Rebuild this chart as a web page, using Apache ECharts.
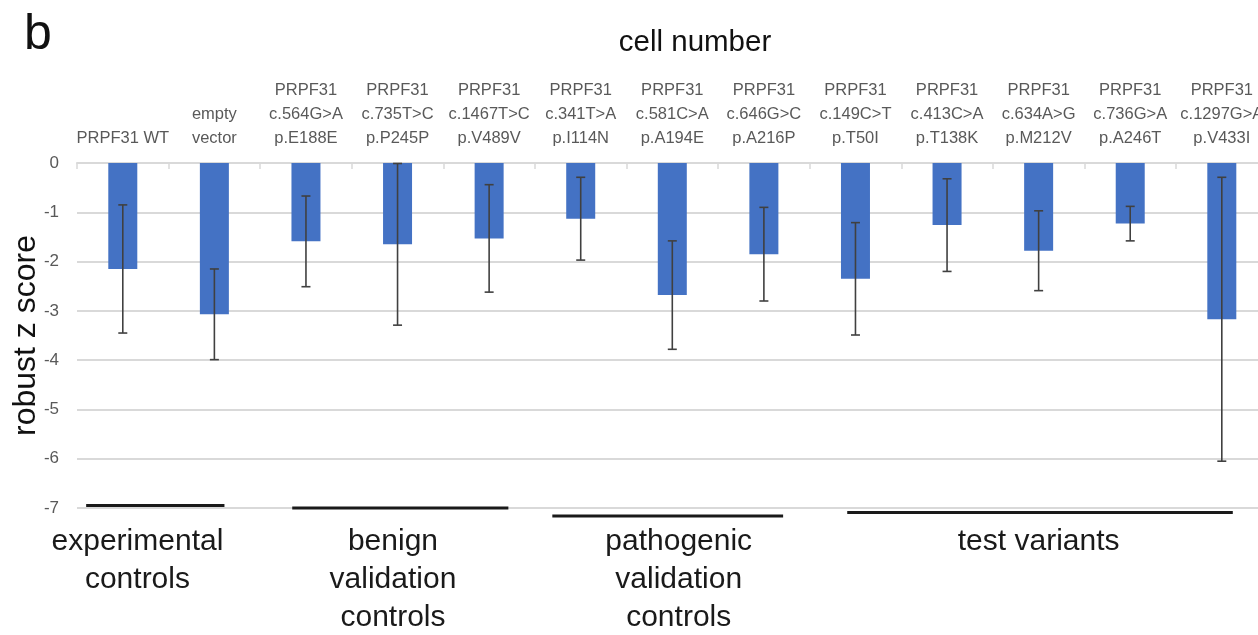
<!DOCTYPE html>
<html>
<head>
<meta charset="utf-8">
<script src="https://cdn.jsdelivr.net/npm/echarts@6/dist/echarts.min.js"></script>
<style>
html,body{margin:0;padding:0;background:#fff;}
#main{width:1258px;height:635px;}
</style>
</head>
<body>
<div id="main"></div>
<script>
// ---- data ----
var categories = [
  'PRPF31 WT',
  'empty\nvector',
  'PRPF31\nc.564G>A\np.E188E',
  'PRPF31\nc.735T>C\np.P245P',
  'PRPF31\nc.1467T>C\np.V489V',
  'PRPF31\nc.341T>A\np.I114N',
  'PRPF31\nc.581C>A\np.A194E',
  'PRPF31\nc.646G>C\np.A216P',
  'PRPF31\nc.149C>T\np.T50I',
  'PRPF31\nc.413C>A\np.T138K',
  'PRPF31\nc.634A>G\np.M212V',
  'PRPF31\nc.736G>A\np.A246T',
  'PRPF31\nc.1297G>A\np.V433I'
];
var zScores = [-2.15, -3.07, -1.59, -1.65, -1.53, -1.13, -2.68, -1.85, -2.35, -1.26, -1.78, -1.23, -3.17];
var errHalf = [1.30, 0.92, 0.92, 1.64, 1.09, 0.84, 1.10, 0.95, 1.14, 0.94, 0.81, 0.35, 2.88];
var yTicks = [0, -1, -2, -3, -4, -5, -6, -7];
// group brackets in category-band units
var groupNames = ['experimental\ncontrols', 'benign\nvalidation\ncontrols', 'pathogenic\nvalidation\ncontrols', 'test variants'];
var groupStart = [0.10, 2.35, 5.19, 8.41];
var groupEnd = [1.61, 4.71, 7.71, 12.62];
var groupY = [-6.95, -7.00, -7.16, -7.09];
var groupLabelX = [0.66, 3.45, 6.57, 10.50];

var FONT = 'Liberation Sans, Arial, sans-serif';

var errData = zScores.map(function (v, i) { return [i, v - errHalf[i], v + errHalf[i]]; });
var groupData = groupNames.map(function (n, i) { return [groupStart[i], groupEnd[i], groupY[i], groupLabelX[i]]; });

var chart = echarts.init(document.getElementById('main'));
chart.setOption({
  animation: false,
  backgroundColor: '#fff',
  title: [
    { text: 'b', left: 19, top: 5, textStyle: { fontFamily: FONT, fontSize: 50, fontWeight: 'normal', color: '#111' } },
    { text: 'cell number', left: 690, top: 23, textAlign: 'center', textStyle: { fontFamily: FONT, fontSize: 29.5, fontWeight: 'normal', color: '#111' } }
  ],
  grid: { left: 77, top: 163, width: 1190.6, height: 345, containLabel: false, outerBoundsMode: 'none' },
  xAxis: [
    {
      type: 'category',
      position: 'top',
      data: categories,
      axisLine: { show: true, lineStyle: { color: '#d9d9d9', width: 2 } },
      axisTick: { show: true, inside: true, length: 6, lineStyle: { color: '#d9d9d9', width: 1.5 } },
      axisLabel: { interval: 0, color: '#595959', fontFamily: FONT, fontSize: 16.5, lineHeight: 24, margin: 13 }
    },
    { type: 'value', min: 0, max: 13, show: false, position: 'top' }
  ],
  yAxis: {
    type: 'value',
    min: -7, max: 0, interval: 1,
    name: 'robust z score',
    nameLocation: 'middle',
    nameGap: 35,
    nameRotate: 90,
    nameMoveOverlap: false,
    nameTextStyle: { fontFamily: FONT, fontSize: 32, color: '#111' },
    axisLine: { show: false },
    axisTick: { show: false },
    axisLabel: { color: '#595959', fontFamily: FONT, fontSize: 17, margin: 18,
      formatter: function (v) { return yTicks.indexOf(v) >= 0 ? String(v) : ''; } },
    splitLine: { lineStyle: { color: '#d9d9d9', width: 2 } }
  },
  series: [
    {
      type: 'bar',
      data: zScores,
      barWidth: 29,
      itemStyle: { color: '#4472C4' },
      z: 2
    },
    {
      type: 'custom',
      data: errData,
      z: 5,
      renderItem: function (params, api) {
        var lo = api.coord([api.value(0), api.value(1)]);
        var hi = api.coord([api.value(0), api.value(2)]);
        var hw = 4.5;
        var st = { stroke: '#404040', lineWidth: 1.6 };
        return { type: 'group', children: [
          { type: 'line', shape: { x1: lo[0], y1: lo[1], x2: hi[0], y2: hi[1] }, style: st },
          { type: 'line', shape: { x1: lo[0] - hw, y1: lo[1], x2: lo[0] + hw, y2: lo[1] }, style: st },
          { type: 'line', shape: { x1: hi[0] - hw, y1: hi[1], x2: hi[0] + hw, y2: hi[1] }, style: st }
        ] };
      }
    },
    {
      type: 'custom',
      xAxisIndex: 1,
      data: groupData,
      clip: false,
      z: 6,
      renderItem: function (params, api) {
        var a = api.coord([api.value(0), api.value(2)]);
        var b = api.coord([api.value(1), api.value(2)]);
        var base = api.coord([api.value(3), -7]);
        return { type: 'group', children: [
          { type: 'line', shape: { x1: a[0], y1: a[1], x2: b[0], y2: b[1] }, style: { stroke: '#1a1a1a', lineWidth: 3 } },
          { type: 'text', x: base[0], y: base[1] + 15, style: {
            text: groupNames[params.dataIndex], fill: '#1a1a1a', font: '30px ' + FONT,
            align: 'center', verticalAlign: 'top', lineHeight: 38 } }
        ] };
      }
    }
  ]
});
</script>
</body>
</html>
